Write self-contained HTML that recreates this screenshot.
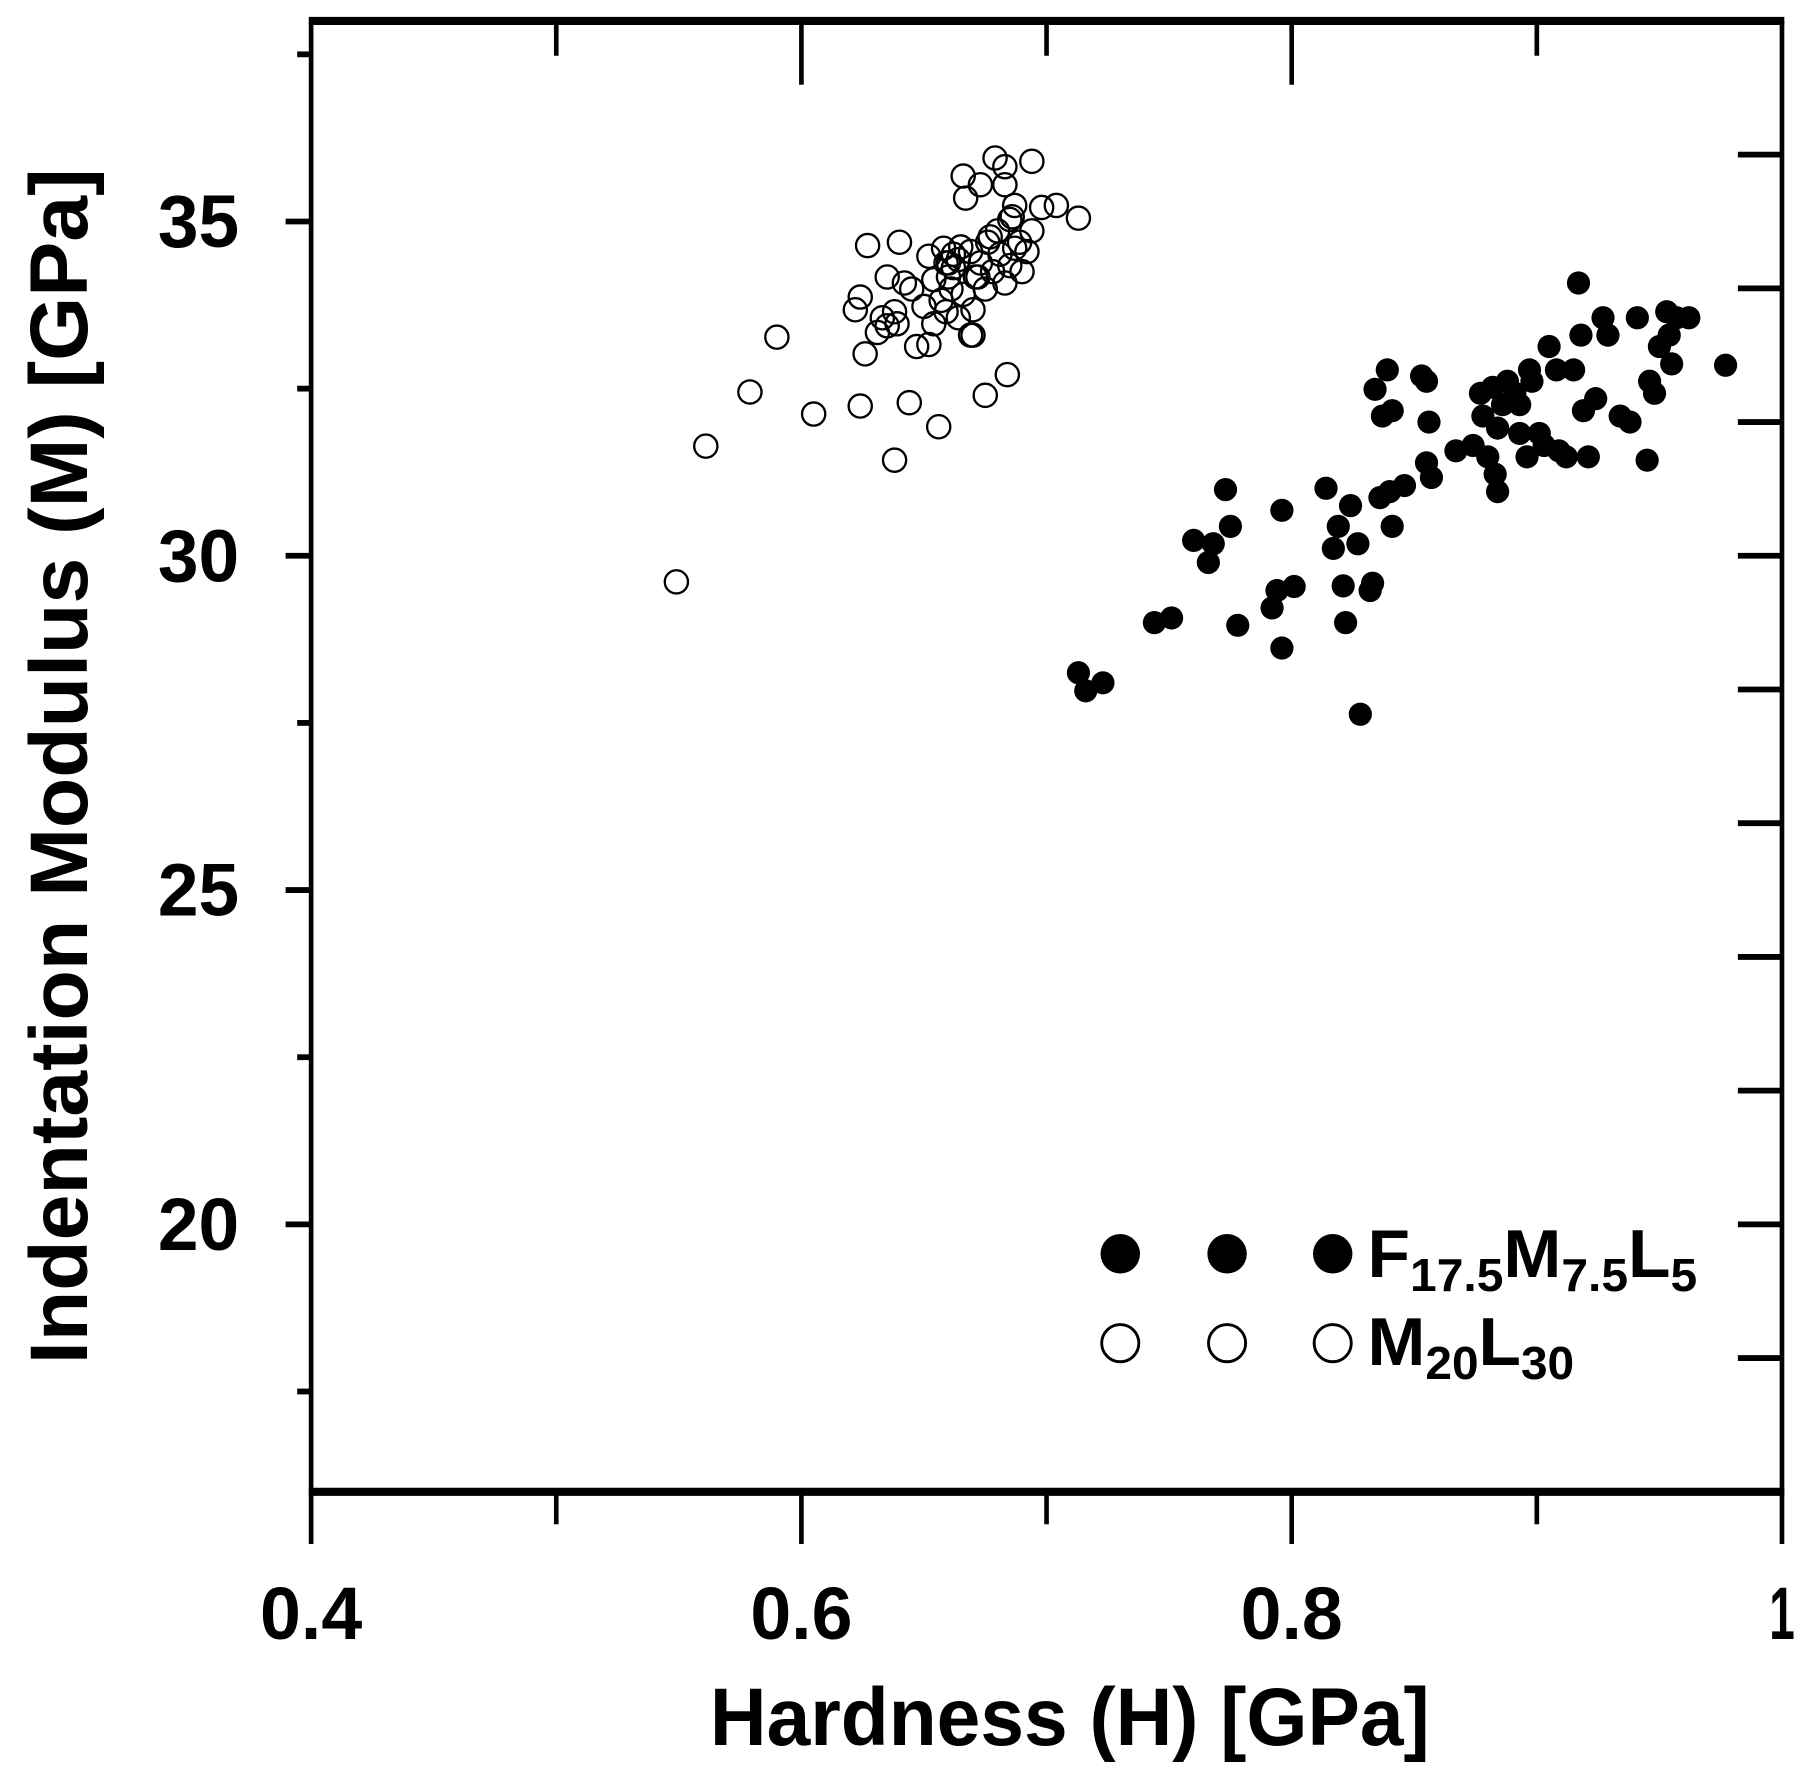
<!DOCTYPE html>
<html><head><meta charset="utf-8"><style>
html,body{margin:0;padding:0;background:#fff}
svg{display:block}
text{font-family:"Liberation Sans",sans-serif;font-weight:bold;fill:#000}
</style></head><body>
<svg id="chart" width="1811" height="1771" viewBox="0 0 1560 1525.5" xmlns="http://www.w3.org/2000/svg">
<g id="axes"></g>
<g id="pts"></g>
<g id="legend"></g>
</svg>
<script>
const xTicks=[0.4,0.6,0.8,1.0];
const xTickLabels=["0.4","0.6","0.8","1"];
const xMinor=[0.5,0.7,0.9];
const yTicks=[20,25,30,35];
const yTickLabels=["20","25","30","35"];
const yMinor=[17.5,22.5,27.5,32.5,37.5];
const yRight=[18,20,22,24,26,28,30,32,34,36];
const filledX=[0.713,0.716,0.723,0.744,0.751,0.760,0.766,0.768,0.773,0.775,0.778,0.792,0.794,0.796,0.796,0.801,0.814,0.817,0.819,0.821,0.822,0.824,0.827,0.828,0.832,0.833,0.834,0.836,0.837,0.839,0.840,0.841,0.841,0.846,0.853,0.855,0.856,0.855,0.857,0.867,0.874,0.877,0.878,0.880,0.882,0.883,0.884,0.884,0.886,0.888,0.891,0.893,0.893,0.896,0.897,0.898,0.901,0.903,0.905,0.908,0.909,0.912,0.915,0.917,0.918,0.919,0.921,0.924,0.927,0.929,0.934,0.938,0.941,0.945,0.946,0.948,0.950,0.953,0.954,0.955,0.957,0.962,0.977];
const filledY=[28.25,27.98,28.10,29.0,29.07,30.23,29.9,30.18,30.99,30.44,28.96,29.22,29.48,30.68,28.62,29.54,31.01,30.11,30.44,29.55,29.0,30.75,30.18,27.63,29.48,29.59,32.49,30.87,32.09,32.78,30.96,32.17,30.44,31.05,32.69,32.61,32.0,31.39,31.17,31.57,31.65,32.43,32.09,31.48,32.52,31.22,30.96,31.91,32.26,32.61,32.43,32.26,31.83,31.48,32.78,32.61,31.83,31.65,33.13,32.78,31.57,31.48,32.78,34.08,33.3,32.17,31.48,32.35,33.56,33.3,32.09,32.0,33.56,31.43,32.61,32.43,33.13,33.65,33.3,32.87,33.56,33.56,32.85];
const openX=[0.549,0.561,0.579,0.590,0.605,0.624,0.626,0.627,0.638,0.640,0.644,0.656,0.675,0.684,0.622,0.624,0.631,0.633,0.635,0.638,0.639,0.635,0.642,0.645,0.647,0.650,0.652,0.652,0.654,0.657,0.659,0.658,0.660,0.661,0.662,0.664,0.666,0.669,0.670,0.671,0.673,0.675,0.676,0.678,0.680,0.681,0.683,0.685,0.685,0.687,0.689,0.690,0.692,0.694,0.666,0.673,0.667,0.679,0.683,0.683,0.687,0.686,0.694,0.698,0.704,0.713,0.665,0.659,0.654,0.670,0.664,0.660,0.662,0.672,0.669,0.677];
const openY=[29.61,31.64,32.45,33.27,32.12,32.24,33.02,34.64,31.43,34.69,32.29,31.93,32.4,32.71,33.68,33.87,33.34,33.56,33.44,33.65,33.47,34.17,34.08,33.99,33.13,33.73,33.16,34.48,33.47,33.82,33.65,34.6,34.17,33.99,34.31,34.43,33.91,33.3,33.68,34.17,34.38,33.99,34.69,34.25,34.86,34.51,34.08,35.03,34.34,34.6,34.69,34.25,34.55,34.86,35.68,35.55,35.35,35.95,35.82,35.55,35.24,35.07,35.9,35.21,35.24,35.05,34.62,34.38,34.13,33.3,33.56,34.38,34.51,34.17,34.55,34.77];
const NS="http://www.w3.org/2000/svg";
const L=268,R=1535,T=18,B=1285;
const sx=v=>L+(v-0.4)/0.6*(R-L);
const sy=v=>T+(38-v)/22*(B-T);
function mk(tag,attrs,parent,txt){const e=document.createElementNS(NS,tag);for(const k in attrs)e.setAttribute(k,attrs[k]);if(txt!==undefined)e.textContent=txt;parent.appendChild(e);return e;}
const ax=document.getElementById('axes');
let e;
e=mk('line',{x1:L,y1:T,x2:L,y2:B,stroke:'#000','stroke-width':4},ax);


e=mk('line',{x1:R,y1:T,x2:R,y2:B,stroke:'#000','stroke-width':4},ax);


e=mk('line',{x1:L-2,y1:T,x2:R+2,y2:T,stroke:'#000','stroke-width':7},ax);


e=mk('line',{x1:L-2,y1:B,x2:R+2,y2:B,stroke:'#000','stroke-width':7},ax);


xTicks.forEach((v,i)=>{
 e=mk('line',{x1:sx(v),y1:B,x2:sx(v),y2:B+45,stroke:'#000','stroke-width':4},ax);
 
 
 if(v>0.41&&v<0.99){e=mk('line',{x1:sx(v),y1:T,x2:sx(v),y2:T+55,stroke:'#000','stroke-width':4},ax);
 
 }
 const lab=xTickLabels[i];
 e=mk('text',{x:sx(v),y:B+127,'font-size':64,'text-anchor':'middle',textLength:lab.length>1?88:22,lengthAdjust:'spacingAndGlyphs'},ax,lab);
 
 
});
xMinor.forEach(v=>{
 e=mk('line',{x1:sx(v),y1:B,x2:sx(v),y2:B+28,stroke:'#000','stroke-width':4},ax);
 
 
 e=mk('line',{x1:sx(v),y1:T,x2:sx(v),y2:T+30,stroke:'#000','stroke-width':4},ax);
 
 
});
yTicks.forEach((v,i)=>{
 e=mk('line',{x1:L-22,y1:sy(v),x2:L,y2:sy(v),stroke:'#000','stroke-width':5},ax);
 
 
 e=mk('text',{x:L-62,y:sy(v)+22,'font-size':64,'text-anchor':'end',textLength:70,lengthAdjust:'spacingAndGlyphs'},ax,yTickLabels[i]);
 
 
});
yMinor.forEach(v=>{
 e=mk('line',{x1:L-12,y1:sy(v),x2:L,y2:sy(v),stroke:'#000','stroke-width':5},ax);
 
 
});
yRight.forEach(v=>{
 e=mk('line',{x1:R-38,y1:sy(v),x2:R,y2:sy(v),stroke:'#000','stroke-width':5},ax);
 
 
});
e=mk('text',{x:(L+R)/2+20,y:1503,'font-size':70,'text-anchor':'middle',textLength:620,lengthAdjust:'spacingAndGlyphs'},ax,'Hardness (H) [GPa]');


e=mk('text',{x:0,y:0,'font-size':70,'text-anchor':'middle',textLength:1030,lengthAdjust:'spacingAndGlyphs',transform:'translate(75,660) rotate(-90)'},ax,'Indentation Modulus (M) [GPa]');


const pg=document.getElementById('pts');
openX.forEach((v,i)=>{
 e=mk('circle',{cx:sx(v),cy:sy(openY[i]),r:10,fill:'none',stroke:'#000','stroke-width':2},pg);
 
 
});
filledX.forEach((v,i)=>{
 e=mk('circle',{cx:sx(v),cy:sy(filledY[i]),r:10,fill:'#000'},pg);
 
 
});
const lg=document.getElementById('legend');
[965,1057,1148].forEach(x=>{
 e=mk('circle',{cx:x,cy:1080,r:17,fill:'#000'},lg);
 
 
 e=mk('circle',{cx:x,cy:1157,r:16,fill:'none',stroke:'#000','stroke-width':2.5},lg);
 
 
});
</script>
<svg style="position:absolute;left:0;top:0" width="1811" height="1771" viewBox="0 0 1560 1525.5">
<text x="1178" y="1100" font-size="58" textLength="284" lengthAdjust="spacingAndGlyphs">F<tspan font-size="40" dy="12">17.5</tspan><tspan dy="-12">M</tspan><tspan font-size="40" dy="12">7.5</tspan><tspan dy="-12">L</tspan><tspan font-size="40" dy="12">5</tspan></text>
<text x="1178" y="1176" font-size="58" textLength="178" lengthAdjust="spacingAndGlyphs">M<tspan font-size="40" dy="12">20</tspan><tspan dy="-12">L</tspan><tspan font-size="40" dy="12">30</tspan></text>
</svg>
</body></html>
